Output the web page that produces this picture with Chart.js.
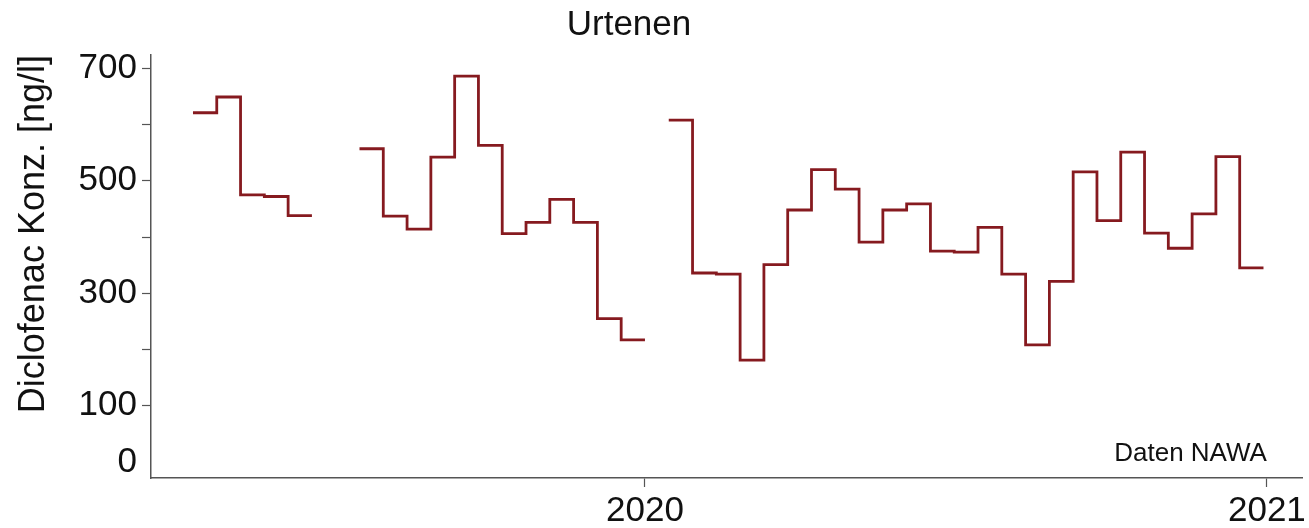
<!DOCTYPE html>
<html>
<head>
<meta charset="utf-8">
<script src="https://cdn.jsdelivr.net/npm/chart.js@4.4.1/dist/chart.umd.min.js"></script>
<style>
  html, body { margin: 0; padding: 0; background: #ffffff; }
  #wrap { width: 1309px; height: 528px; position: relative; }
</style>
</head>
<body>
<div id="wrap"><canvas id="chart" width="1309" height="528"></canvas></div>
<script>
// Diclofenac, 14-day composite samples at Urtenen (start date of each sample)
const sampleStart = [
  '2019-04-10', '2019-04-24', '2019-05-08', '2019-05-22', '2019-06-05',
  '2019-07-17', '2019-07-31', '2019-08-14', '2019-08-28', '2019-09-11', '2019-09-25',
  '2019-10-09', '2019-10-23', '2019-11-06', '2019-11-20', '2019-12-04', '2019-12-18',
  '2020-01-15', '2020-01-29', '2020-02-12', '2020-02-26', '2020-03-11', '2020-03-25',
  '2020-04-08', '2020-04-22', '2020-05-06', '2020-05-20', '2020-06-03', '2020-06-17',
  '2020-07-01', '2020-07-15', '2020-07-29', '2020-08-12', '2020-08-26', '2020-09-09',
  '2020-09-23', '2020-10-07', '2020-10-21', '2020-11-04', '2020-11-18', '2020-12-02',
  '2020-12-16'
];
// concentration in ng/l
const diclofenac = [
  621, 649, 475, 472, 438,
  557, 437, 414, 542, 686, 563,
  406, 426, 467, 426, 255, 217,
  608, 336, 334, 181, 351, 448,
  520, 485, 391, 448, 459, 375,
  373, 417, 334, 208, 321, 516,
  429, 551, 407, 380, 441, 543,
  345
];
const sampleDays = 14;

const yearTickDates = ['2020-01-01', '2021-01-01'];
const yearTickLabels = ['2020', '2021'];
const yTickValues = [0, 100, 200, 300, 400, 500, 600, 700];
const yTickLabelled = [0, 100, 300, 500, 700];

const chartTitle = 'Urtenen';
const yAxisTitle = 'Diclofenac Konz. [ng/l]';
const sourceNote = 'Daten NAWA';

const FONT = "'Liberation Sans', Arial, Helvetica, sans-serif";
const LINE_COLOR = '#861a1f';
const AXIS_COLOR = '#555555';

// days relative to 1 Jan 2020
const origin = Date.parse('2020-01-01');
const toDay = (d) => (Date.parse(d) - origin) / 86400000;

// each sample is a horizontal step over its 14 days; break the line where samples are missing
const points = [];
sampleStart.forEach((d, i) => {
  const x0 = toDay(d);
  const x1 = x0 + sampleDays;
  points.push({ x: x0, y: diclofenac[i] }, { x: x1, y: diclofenac[i] });
  const next = i + 1 < sampleStart.length ? toDay(sampleStart[i + 1]) : null;
  if (next !== x1) points.push({ x: x1, y: null });
});

const yearTicks = yearTickDates.map(toDay);

const textPlugin = {
  id: 'chartTexts',
  afterDraw(chart) {
    const ctx = chart.ctx;
    ctx.save();
    ctx.fillStyle = '#111111';
    ctx.textBaseline = 'alphabetic';
    ctx.font = '35px ' + FONT;
    ctx.textAlign = 'center';
    ctx.fillText(chartTitle, 629, 35);
    ctx.font = '26px ' + FONT;
    ctx.textAlign = 'right';
    const xs = chart.scales.x;
    ctx.fillText(sourceNote, xs.getPixelForValue(yearTicks[1]), 461);
    ctx.restore();
  }
};

new Chart(document.getElementById('chart'), {
  type: 'line',
  data: {
    datasets: [{
      data: points,
      borderColor: LINE_COLOR,
      borderWidth: 2.8,
      pointRadius: 0,
      pointHoverRadius: 0,
      tension: 0,
      spanGaps: false,
      fill: false
    }]
  },
  options: {
    responsive: false,
    animation: false,
    events: [],
    layout: { autoPadding: false, padding: { top: 55, right: 6, left: 0, bottom: 0 } },
    plugins: {
      legend: { display: false },
      tooltip: { enabled: false },
      title: { display: false }
    },
    scales: {
      x: {
        type: 'linear',
        min: -290.7,
        max: 387,
        afterBuildTicks: (s) => { s.ticks = yearTicks.map(v => ({ value: v })); },
        afterFit: (s) => { s.height = 50; },
        ticks: {
          callback: (v) => yearTickLabels[yearTicks.indexOf(v)] ?? '',
          font: { family: FONT, size: 35 },
          color: '#111111',
          maxRotation: 0,
          autoSkip: false,
          padding: 3
        },
        grid: { drawOnChartArea: false, drawTicks: true, tickLength: 9, tickColor: AXIS_COLOR, tickWidth: 1.2 },
        border: { display: true, color: AXIS_COLOR, width: 1.5 }
      },
      y: {
        type: 'linear',
        min: -28.6,
        max: 723.7,
        afterBuildTicks: (s) => { s.ticks = yTickValues.map(v => ({ value: v })); },
        afterFit: (s) => { s.width = 151; },
        ticks: {
          callback: (v) => yTickLabelled.includes(v) ? String(v) : '',
          font: { family: FONT, size: 35 },
          color: '#111111',
          autoSkip: false,
          padding: 5
        },
        grid: {
          drawOnChartArea: false,
          drawTicks: true,
          tickLength: 9,
          tickWidth: 1.2,
          tickColor: (c) => (c.tick && c.tick.value === 0) ? 'rgba(0,0,0,0)' : AXIS_COLOR
        },
        border: { display: true, color: AXIS_COLOR, width: 1.5 },
        title: {
          display: true,
          text: yAxisTitle,
          align: 'end',
          color: '#111111',
          font: { family: FONT, size: 36 },
          padding: { top: 12, bottom: 0 }
        }
      }
    }
  },
  plugins: [textPlugin]
});
</script>
</body>
</html>
